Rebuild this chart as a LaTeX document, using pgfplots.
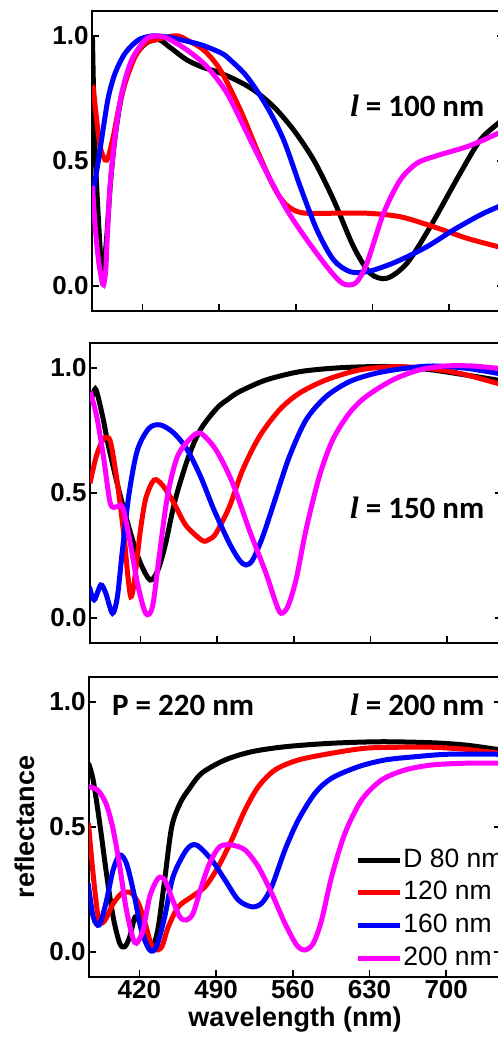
\documentclass[border=0pt]{standalone}
\usepackage{fontspec}
\setmainfont{Liberation Sans}
\newfontfamily\calibri{Carlito}
\newfontfamily\serifit{Liberation Serif}
\usepackage{pgfplots}
\pgfplotsset{compat=1.18}

\definecolor{cblack}{RGB}{0,0,0}
\definecolor{cred}{RGB}{255,0,0}
\definecolor{cblue}{RGB}{0,0,255}
\definecolor{cmag}{RGB}{255,0,255}

\newcommand{\tickfont}{\fontsize{26bp}{30bp}\selectfont\bfseries}
\newcommand{\labfont}{\fontsize{27bp}{31bp}\selectfont\bfseries}
\newcommand{\notefont}{\calibri\bfseries\fontsize{31bp}{36bp}\selectfont}
\newcommand{\lsym}{{\serifit\itshape l}}

\pgfplotsset{
  panel/.style={
    scale only axis, width=412bp, height=300bp,
    xmin=374, xmax=750, ymin=-0.1, ymax=1.1,
    xtick={420,490,560,630,700}, ytick={0,0.5,1},
    yticklabels={0.0,0.5,1.0},
    xtick pos=bottom, ytick pos=both, yticklabel pos=left,
    tick align=inside, major tick length=7bp,
    axis line style={line width=1.8bp},
    every tick/.style={line width=1.5bp, black},
    ticklabel style={font=\tickfont},
    label style={font=\labfont},
    clip=true,
  },
  curve/.style={line width=5bp, smooth, tension=0.5},
}

\begin{document}
\begin{tikzpicture}
\path[use as bounding box] (0,0) rectangle (498bp,1037bp);
\clip (0,0) rectangle (498bp,1037bp);

% ---------- l = 100 nm ----------
\begin{axis}[panel, at={(92bp,726bp)}, anchor=south west, xticklabels={}]
\addplot[curve, cblack] coordinates {
(374.4,1.0) (375.3,0.8) (376.9,0.53) (379.9,0.264) (382.9,0.064) (385,0.09)
(387.5,0.2) (391,0.42) (395.5,0.61) (401.5,0.77) (410.5,0.9) (423,0.97)
(435,0.985) (445,0.955) (460.7,0.904) (475,0.875) (488.1,0.857) (505,0.825)
(521.5,0.784) (539.8,0.717) (558,0.624) (576.3,0.504) (594.5,0.344)
(612.7,0.157) (627.9,0.051) (643.1,0.031) (661.4,0.091) (682.7,0.237)
(710,0.451) (728.3,0.584) (744.7,0.651) (750,0.67)};
\addplot[curve, cred] coordinates {
(374.4,0.80) (375.3,0.784) (378.3,0.664) (381.4,0.557) (385.9,0.504)
(388.9,0.517) (393.4,0.597) (398.1,0.704) (404.2,0.811) (413.3,0.917)
(422.5,0.971) (431.6,0.984) (443.7,0.997) (452.8,1.0) (460.7,0.984)
(475.9,0.944) (491.1,0.864) (509.4,0.704) (524.6,0.544) (539.8,0.397)
(550,0.33) (560,0.30) (570.2,0.291) (594.5,0.291) (624.9,0.291)
(655.3,0.277) (685.7,0.237) (716.1,0.191) (744.7,0.157) (750,0.15)};
\addplot[curve, cblue] coordinates {
(374.4,0.36) (376.9,0.424) (379.9,0.504) (384.5,0.637) (389,0.757)
(395.1,0.851) (404.2,0.931) (416.3,0.984) (428.5,1.0) (440.7,0.997)
(455.8,0.984) (474.1,0.964) (492.3,0.931) (500,0.905) (515.5,0.837)
(533.7,0.717) (548.9,0.584) (564.1,0.397) (579.3,0.224) (594.5,0.104)
(609.7,0.057) (624.9,0.057) (640.1,0.077) (655.3,0.104) (679.6,0.157)
(703.9,0.224) (728.3,0.284) (744.7,0.317) (750,0.33)};
\addplot[curve, cmag] coordinates {
(374.4,0.40) (376.9,0.237) (379.9,0.104) (382.9,0.024) (384.5,0.005)
(386.5,0.06) (388,0.2) (390.5,0.4) (395.1,0.6) (401.1,0.771) (410.2,0.904)
(422.5,0.984) (431.6,1.0) (442.5,0.991) (460.7,0.944) (478.9,0.877)
(497.2,0.771) (515.5,0.611) (533.7,0.451) (551.9,0.304) (570.2,0.184)
(588.4,0.077) (600.6,0.017) (608.2,0.004) (615.8,0.017) (624.9,0.091)
(640.1,0.291) (655.3,0.424) (670.5,0.491) (685.7,0.517) (700.9,0.537)
(716.1,0.557) (731.3,0.584) (744.7,0.611) (750,0.62)};
\node[anchor=west, inner sep=0pt, font=\notefont] at (axis cs:609.5,0.72) {\lsym\ = 100 nm};
\end{axis}

% ---------- l = 150 nm ----------
\begin{axis}[panel, at={(90bp,394bp)}, anchor=south west, xticklabels={}]
\addplot[curve, cblack] coordinates {
(374,0.86) (377,0.9) (379.6,0.912) (385.6,0.805) (391,0.685) (401,0.50)
(412,0.325) (420,0.22) (428.9,0.152) (435.8,0.19) (442.6,0.29)
(451.7,0.472) (463.9,0.645) (475,0.755) (490,0.84) (500,0.875)
(510.3,0.905) (534.6,0.952) (565,0.985) (595.4,0.999) (625.8,1.005)
(656.2,1.005) (686.6,0.992) (717,0.972) (745.6,0.952) (750,0.95)};
\addplot[curve, cred] coordinates {
(374,0.539) (379.6,0.645) (385.6,0.712) (389.4,0.722) (393,0.70) (399,0.539)
(405.1,0.325) (408.5,0.17) (411.2,0.085) (414,0.13) (417,0.24) (420.3,0.36)
(425,0.48) (432.5,0.552) (440.4,0.53) (450.7,0.459) (461.6,0.37)
(476.5,0.31) (483,0.315) (489,0.339) (501.2,0.445) (513.3,0.592)
(528.5,0.725) (546.8,0.832) (565,0.899) (589.3,0.952) (619.7,0.992)
(650.1,1.005) (680.5,0.999) (710.9,0.979) (745.6,0.939) (750,0.935)};
\addplot[curve, cblue] coordinates {
(373.5,0.125) (377.8,0.072) (383.8,0.132) (388.4,0.099) (394.5,0.019)
(399,0.085) (403.6,0.272) (409.7,0.499) (417.3,0.672) (427.9,0.759)
(438.5,0.772) (450.7,0.739) (462.9,0.672) (475,0.565) (487.2,0.432)
(501.2,0.299) (510.3,0.232) (516.4,0.212) (522.4,0.232) (531.6,0.325)
(543.7,0.485) (555.9,0.645) (571.1,0.792) (589.3,0.885) (610.6,0.945)
(634.9,0.979) (662.3,0.999) (686.6,1.008) (717,0.999) (745.6,0.979) (750,0.975)};
\addplot[curve, cmag] coordinates {
(374.2,0.905) (380.2,0.805) (386.3,0.645) (392.5,0.459) (398.5,0.445)
(403.6,0.445) (409.7,0.325) (417.3,0.139) (424.8,0.019) (431,0.045)
(437.1,0.245) (444.6,0.485) (453.7,0.645) (465.9,0.719) (475,0.739)
(489,0.672) (504.2,0.539) (519.4,0.352) (534.6,0.179) (543.7,0.059)
(548.3,0.019) (554.4,0.045) (562,0.152) (571.1,0.352) (583.2,0.565)
(595.4,0.712) (610.6,0.819) (625.8,0.885) (650.1,0.952) (674.4,0.992)
(698.7,1.008) (723,1.008) (745.6,0.999) (750,0.998)};
\node[anchor=west, inner sep=0pt, font=\notefont] at (axis cs:611.3,0.44) {\lsym\ = 150 nm};
\end{axis}

% ---------- l = 200 nm ----------
\begin{axis}[panel, at={(89bp,60bp)}, anchor=south west,
  xticklabels={420,490,560,630,700},
  xlabel={wavelength (nm)}, ylabel={reflectance},
  xlabel style={at={(axis description cs:0.5,-0.143)}, anchor=center},
  ylabel style={at={(axis description cs:-0.155,0.5)}, anchor=center},
  legend cell align=left,
  legend image code/.code={\draw[#1] (0bp,0bp) -- (42bp,0bp);},
  legend style={at={(axis description cs:0.646,0.433)}, anchor=north west,
    draw=none, fill=none, inner sep=0pt, row sep=6.7bp,
    font=\fontsize{26.5bp}{30bp}\selectfont,
    nodes={inner sep=1bp, text height=19bp, text depth=5bp},
    /tikz/every even column/.append style={column sep=0pt}},
]
\addplot[curve, cblack] coordinates {
(373.5,0.755) (377.8,0.688) (383.8,0.515) (389.9,0.315) (396,0.141)
(402,0.035) (406.6,0.021) (411.2,0.061) (416,0.14) (420,0.12) (425,0.05)
(429.7,0.01) (433,0.03) (437.3,0.101) (443.4,0.301) (449.5,0.501)
(457.1,0.595) (464.7,0.648) (476.8,0.715) (498.1,0.768) (522.4,0.801)
(552.8,0.821) (595.4,0.835) (641,0.841) (686.6,0.837) (717,0.828)
(745.6,0.811) (750,0.808)};
\addlegendentry{D 80 nm}
\addplot[curve, cred] coordinates {
(373.5,0.515) (376.5,0.368) (379.6,0.235) (382,0.15) (384.1,0.115)
(388.7,0.128) (396.3,0.195) (403.9,0.235) (409,0.24) (413,0.235)
(419.1,0.195) (425.2,0.115) (430,0.04) (434.3,0.008) (440.4,0.021)
(446.4,0.101) (455.6,0.181) (467.7,0.221) (479.9,0.261) (492,0.341)
(504.2,0.448) (516.4,0.568) (528.5,0.661) (543.7,0.728) (565,0.768)
(595.4,0.795) (625.8,0.815) (656.2,0.819) (686.6,0.819) (717,0.811)
(745.6,0.797) (750,0.795)};
\addlegendentry{120 nm}
\addplot[curve, cblue] coordinates {
(373.2,0.275) (377.8,0.141) (383.3,0.108) (389.4,0.195) (396,0.328)
(402,0.388) (408.1,0.355) (414.3,0.248) (421.8,0.088) (429.4,0.008)
(435.5,0.021) (443.1,0.141) (450.7,0.301) (462.9,0.408) (472,0.428)
(486,0.368) (498.1,0.288) (510.3,0.208) (522.4,0.181) (531.6,0.195)
(540.7,0.261) (552.8,0.408) (565,0.528) (580.2,0.635) (595.4,0.695)
(619.7,0.741) (644,0.768) (671.4,0.781) (701.8,0.791) (745.6,0.791) (750,0.79)};
\addlegendentry{160 nm}
\addplot[curve, cmag] coordinates {
(373.2,0.661) (381.8,0.648) (389.4,0.595) (395.5,0.501) (401.6,0.355)
(407.6,0.181) (413.7,0.061) (417.3,0.035) (423.4,0.088) (429.4,0.221)
(437.1,0.295) (443.1,0.288) (449.2,0.221) (456.8,0.141) (462.9,0.128)
(469,0.155) (476.5,0.261) (484.1,0.355) (493.2,0.421) (504.2,0.428)
(516.4,0.408) (528.5,0.341) (540.7,0.235) (552.8,0.115) (563.5,0.028)
(571.1,0.008) (578.7,0.035) (586.3,0.128) (595.4,0.301) (607.6,0.475)
(622.8,0.608) (641,0.688) (662.3,0.728) (686.6,0.748) (717,0.755)
(745.6,0.755) (750,0.755)};
\addlegendentry{200 nm}
\node[anchor=west, inner sep=0pt, font=\notefont] at (axis cs:395,0.988) {P = 220 nm};
\node[anchor=west, inner sep=0pt, font=\notefont] at (axis cs:612.2,0.988) {\lsym\ = 200 nm};
\end{axis}
\end{tikzpicture}
\end{document}
